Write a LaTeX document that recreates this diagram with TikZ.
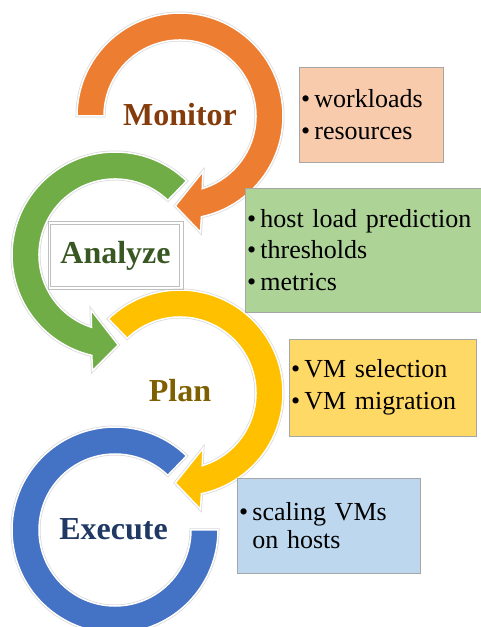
\documentclass[tikz,border=0pt]{standalone}
\usepackage{fontspec}
\setmainfont{Liberation Serif}

\definecolor{ringorange}{HTML}{ED7D31}
\definecolor{ringgreen}{HTML}{70AD47}
\definecolor{ringyellow}{HTML}{FFC000}
\definecolor{ringblue}{HTML}{4472C4}
\definecolor{txtorange}{HTML}{843C0C}
\definecolor{txtgreen}{HTML}{385723}
\definecolor{txtyellow}{HTML}{7F6000}
\definecolor{txtblue}{HTML}{1F3864}
\definecolor{boxorange}{HTML}{F8CBAD}
\definecolor{boxgreen}{HTML}{AED397}
\definecolor{boxyellow}{HTML}{FFD966}
\definecolor{boxblue}{HTML}{BDD7EE}
\definecolor{boxline}{HTML}{A6A6A6}
\definecolor{frameline}{HTML}{BFBFBF}

\tikzset{
  ring/.style={fill=#1, draw=white, line width=1.5pt,
    preaction={draw=gray!30, line width=3pt}},
  phase/.style={font=\fontsize{32}{38}\selectfont\bfseries, anchor=base, inner sep=0pt},
  itembox/.style={draw=boxline, line width=0.6pt, fill=#1, inner xsep=2pt,
    inner ysep=0pt, align=left, font=\fontsize{26}{31.5}\selectfont}
}

% ring radii and arrow tip radius
\newcommand\rin{76}
\newcommand\rout{103}
\newcommand\rmid{90}

% ring arc with arrow head: centre, start angle, tip angle, sense (1 ccw, -1 cw), colour
\newcommand\cyclearrow[5]{%
  \pgfmathsetmacro\outend{#3-#4*15}%
  \pgfmathsetmacro\outbarb{#3-#4*13}%
  \pgfmathsetmacro\inbarb{#3-#4*25.5}%
  \pgfmathsetmacro\inend{#3-#4*20}%
  \path[ring=#5, shift={(#1)}] (#2:\rout) arc[start angle=#2, end angle=\outend, radius=\rout]
    -- (\outbarb:\rout+15) -- (#3:\rmid) -- (\inbarb:\rin-16) -- (\inend:\rin)
    arc[start angle=\inend, end angle=#2, radius=\rin] -- cycle;
}

\newcommand\itm{\textbullet\,}

\begin{document}
\begin{tikzpicture}[x=1pt,y=1pt]
  \useasboundingbox (0,0) rectangle (481,627);

  % rings, last phase first so each arrow head lies on top
  \path[ring=ringblue, shift={(115,97)}] (46:\rout) arc[start angle=46, end angle=360, radius=\rout]
    -- (0:\rin) arc[start angle=360, end angle=46, radius=\rin] -- cycle;
  \cyclearrow{180,234}{134}{-93}{-1}{ringyellow}
  \cyclearrow{115,372}{46}{272}{1}{ringgreen}
  \cyclearrow{180,511}{180}{-93}{-1}{ringorange}

  % phase names
  \node[phase, text=txtorange] (monitor) at (180,501) {Monitor};
  \node[draw=frameline, line width=0.8pt, minimum width=135pt, minimum height=68pt, inner sep=0pt,
    font=\fontsize{32}{38}\selectfont\bfseries, text=txtgreen] (analyze) at (115.5,371.5) {Analyze};
  \draw[frameline, line width=0.8pt] ([shift={(3pt,3pt)}]analyze.south west)
    rectangle ([shift={(-4pt,-3pt)}]analyze.north east);
  \node[phase, text=txtyellow] (plan) at (180,225) {Plan};
  \node[phase, text=txtblue] (execute) at (113.5,87) {Execute};

  % what each phase deals with
  \node[itembox=boxorange, text width=140pt, minimum height=95pt] (monitoritems) at (371,512.5)
    {\itm workloads\\\itm resources};
  \node[itembox=boxgreen, text width=232pt, minimum height=124pt] (analyzeitems) at (363,377)
    {\itm host load prediction\\\itm thresholds\\\itm metrics};
  \node[itembox=boxyellow, text width=183pt, minimum height=97pt] (planitems) at (382.5,239.5)
    {\itm VM selection\\\itm VM migration};
  \node[itembox=boxblue, text width=179pt, minimum height=95pt] (executeitems) at (328.5,101.5)
    {\itm scaling VMs\\[-3.5pt]\phantom{\itm}on hosts};
\end{tikzpicture}
\end{document}
